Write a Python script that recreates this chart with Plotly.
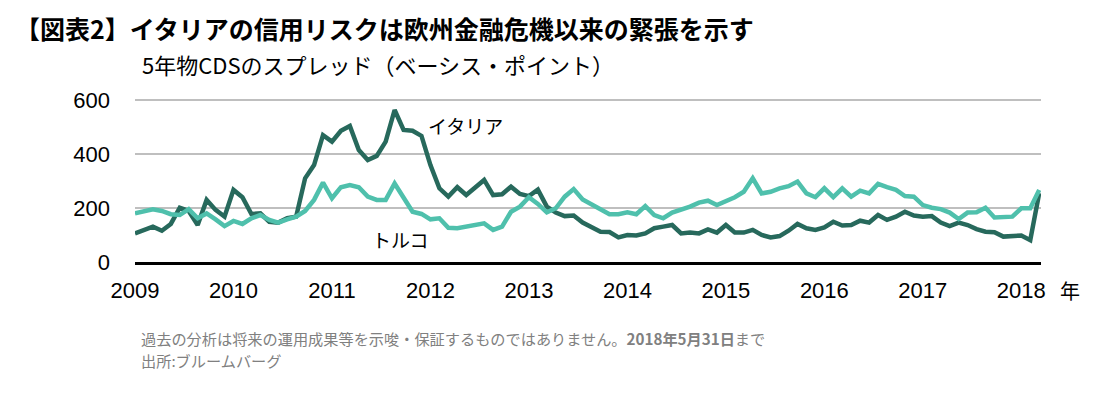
import plotly.graph_objects as go

# Data (5-year CDS spreads, basis points)
years = ["2009", "2010", "2011", "2012", "2013", "2014", "2015", "2016", "2017", "2018"]
points_per_year = 11

italy = [106, 118, 131, 116, 141, 201, 189, 137, 230, 193, 168,
         267, 240, 178, 180, 149, 146, 162, 168, 310, 359, 470,
         446, 486, 504, 415, 378, 393, 446, 563, 489, 486, 467,
         359, 273, 242, 277, 248, 277, 304, 248, 251, 279, 252,
         244, 268, 205, 183, 170, 172, 146, 131, 112, 111, 91,
         100, 98, 106, 125, 131, 137, 106, 109, 106, 121, 109,
         137, 109, 109, 119, 100, 91, 96, 116, 141, 125, 119,
         128, 149, 135, 137, 153, 146, 174, 156, 168, 186, 172,
         168, 170, 146, 133, 146, 137, 122, 112, 110, 94, 94,
         98, 81, 255]

turkey = [180, 189, 195, 189, 177, 174, 196, 162, 180, 158, 133,
          152, 141, 162, 174, 156, 146, 158, 168, 189, 230, 294,
          236, 277, 285, 277, 242, 230, 230, 291, 242, 186, 178,
          158, 162, 127, 125, 131, 135, 143, 119, 131, 186, 205,
          240, 215, 184, 199, 242, 270, 232, 215, 195, 177, 177,
          184, 177, 207, 174, 162, 183, 193, 205, 220, 227, 211,
          226, 240, 260, 310, 254, 260, 273, 281, 298, 254, 240,
          273, 240, 273, 242, 264, 254, 289, 277, 267, 244, 242,
          211, 201, 196, 183, 159, 183, 184, 201, 165, 168, 168,
          199, 199, 267]

y_ticks = [0, 200, 400, 600]

title = "【図表2】イタリアの信用リスクは欧州金融危機以来の緊張を示す"
subtitle = "5年物CDSのスプレッド（ベーシス・ポイント）"
note1 = "過去の分析は将来の運用成果等を示唆・保証するものではありません。<b>2018年5月31日</b>まで"
note2 = "出所:ブルームバーグ"

idx = list(range(len(italy)))
tick_idx = [i * points_per_year for i in range(len(years))]

JP = "Noto Sans CJK JP"
NUM = "Liberation Sans, Arial"

fig = go.Figure()
fig.add_trace(go.Scatter(x=idx, y=italy, mode="lines", name="イタリア",
                         line=dict(color="#27695C", width=4.5)))
fig.add_trace(go.Scatter(x=idx, y=turkey, mode="lines", name="トルコ",
                         line=dict(color="#4FC0AC", width=4.5)))

# plot area: screen x 135..1041, y 97..262 (page body adds an 8px offset)
H = 165.0
fig.update_layout(
    width=1100, height=388,
    margin=dict(l=127, r=67, t=89, b=134),
    paper_bgcolor="white", plot_bgcolor="white",
    showlegend=False,
    xaxis=dict(range=[0, 101.2], tickvals=tick_idx, ticktext=years,
               showgrid=False, zeroline=False, showline=True,
               linecolor="black", linewidth=3, ticks="",
               ticklabelstandoff=7,
               tickfont=dict(family=NUM, size=22, color="black")),
    yaxis=dict(range=[0, 611.1], tickvals=y_ticks, showgrid=True,
               gridcolor="#BFBFBF", gridwidth=2, zeroline=False,
               showline=False, ticks="", ticklabelstandoff=24,
               tickfont=dict(family=NUM, size=22, color="black")),
)

def py(screen_y):
    return (262 - screen_y) / H

def px(screen_x):
    return (screen_x - 135) / 906.0

ann = [
    dict(text="<b>" + title + "</b>", x=px(13), y=py(28), xref="paper", yref="paper",
         xanchor="left", yanchor="middle", showarrow=False,
         font=dict(family=JP, size=25, color="black")),
    dict(text=subtitle, x=px(140), y=py(64), xref="paper", yref="paper",
         xanchor="left", yanchor="middle", showarrow=False,
         font=dict(family=JP, size=22, color="black")),
    dict(text=note1, x=px(139), y=py(338), xref="paper", yref="paper",
         xanchor="left", yanchor="middle", showarrow=False,
         font=dict(family=JP, size=15.2, color="#808080")),
    dict(text=note2, x=px(139), y=py(360), xref="paper", yref="paper",
         xanchor="left", yanchor="middle", showarrow=False,
         font=dict(family=JP, size=15.2, color="#808080")),
    dict(text="年", x=px(1070), y=py(290), xref="paper", yref="paper",
         xanchor="center", yanchor="middle", showarrow=False,
         font=dict(family=JP, size=20, color="black")),
    dict(text="イタリア", x=36.9, y=507, xref="x", yref="y",
         xanchor="center", yanchor="middle", showarrow=False,
         font=dict(family=JP, size=19, color="black")),
    dict(text="トルコ", x=29.7, y=85, xref="x", yref="y",
         xanchor="center", yanchor="middle", showarrow=False,
         font=dict(family=JP, size=19, color="black")),
]
fig.update_layout(annotations=ann)

fig.write_html("out.html")
